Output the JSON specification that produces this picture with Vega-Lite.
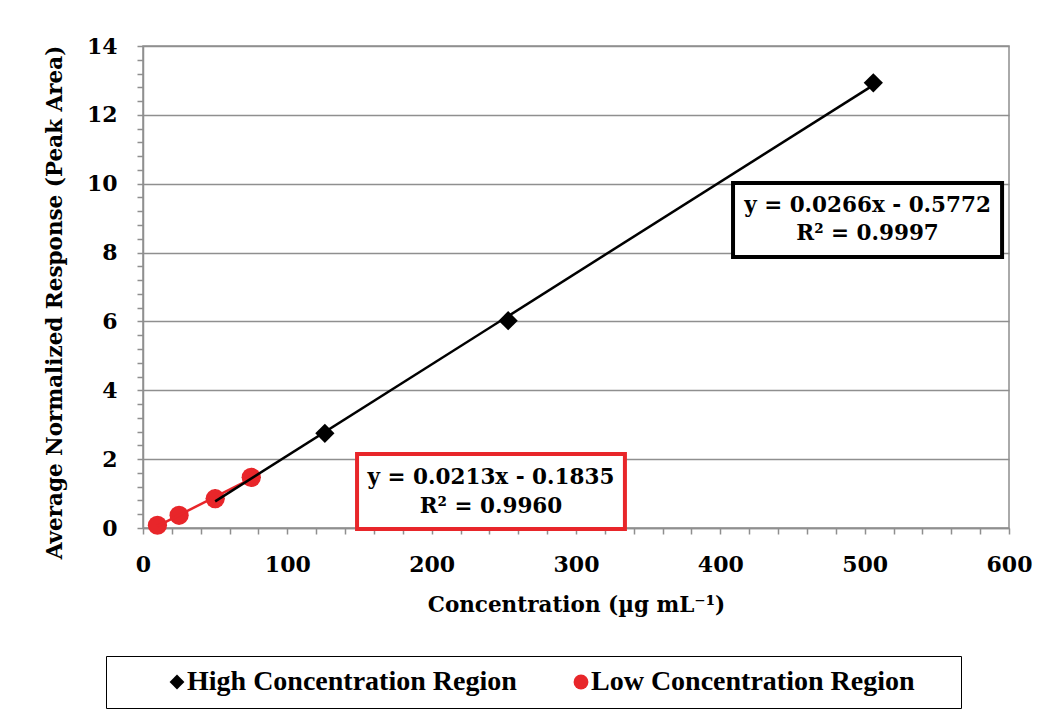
{
  "$schema": "https://vega.github.io/schema/vega-lite/v6.json",
  "width": 866,
  "height": 482,
  "autosize": "none",
  "padding": {"left": 143, "top": 46, "right": 39, "bottom": 195},
  "background": "white",
  "config": {
    "view": {"stroke": "#8f8f8f", "strokeWidth": 1.5},
    "font": "DejaVu Serif",
    "axis": {
      "domainColor": "#8f8f8f",
      "domainWidth": 1.5,
      "tickColor": "#8f8f8f",
      "tickWidth": 1.5,
      "tickSize": 6,
      "gridColor": "#8f8f8f",
      "gridWidth": 1.5,
      "labelFont": "DejaVu Serif",
      "labelFontWeight": "bold",
      "labelFontSize": 22,
      "labelColor": "#000000",
      "labelOverlap": false,
      "labelFlush": false,
      "labelBound": false,
      "titleFont": "DejaVu Serif",
      "titleFontWeight": "bold",
      "titleFontSize": 21.5,
      "titleColor": "#000000"
    }
  },
  "datasets": {
    "points": [
      {"series": "High Concentration Region", "conc": 50, "resp": 0.85},
      {"series": "High Concentration Region", "conc": 75, "resp": 1.47},
      {"series": "High Concentration Region", "conc": 126, "resp": 2.75},
      {"series": "High Concentration Region", "conc": 253, "resp": 6.02},
      {"series": "High Concentration Region", "conc": 506, "resp": 12.93},
      {"series": "Low Concentration Region", "conc": 10, "resp": 0.08},
      {"series": "Low Concentration Region", "conc": 25, "resp": 0.37},
      {"series": "Low Concentration Region", "conc": 50, "resp": 0.85},
      {"series": "Low Concentration Region", "conc": 75, "resp": 1.47}
    ]
  },
  "layer": [
    {
      "data": {"name": "points"},
      "mark": {"type": "point", "filled": true, "opacity": 1, "size": 370},
      "encoding": {
        "x": {
          "field": "conc",
          "type": "quantitative",
          "scale": {"domain": [0, 600], "nice": false, "zero": true},
          "axis": {
            "title": "Concentration (µg mL⁻¹)",
            "values": [0, 20, 40, 60, 80, 100, 120, 140, 160, 180, 200, 220, 240, 260, 280, 300, 320, 340, 360, 380, 400, 420, 440, 460, 480, 500, 520, 540, 560, 580, 600],
            "tickCount": 200,
            "labelExpr": "datum.value % 100 === 0 ? format(datum.value, 'd') : ''",
            "grid": false,
            "labelPadding": 20,
            "titlePadding": 19
          }
        },
        "y": {
          "field": "resp",
          "type": "quantitative",
          "scale": {"domain": [0, 14], "nice": false},
          "axis": {
            "title": "Average Normalized Response (Peak Area)",
            "values": [0, 0.4, 0.8, 1.2, 1.6, 2, 2.4, 2.8, 3.2, 3.6, 4, 4.4, 4.8, 5.2, 5.6, 6, 6.4, 6.8, 7.2, 7.6, 8, 8.4, 8.8, 9.2, 9.6, 10, 10.4, 10.8, 11.2, 11.6, 12, 12.4, 12.8, 13.2, 13.6, 14],
            "tickCount": 200,
            "labelExpr": "datum.value % 2 === 0 ? format(datum.value, 'd') : ''",
            "grid": true,
            "gridOpacity": {"condition": {"test": "datum.value % 2 === 0", "value": 1}, "value": 0},
            "labelPadding": 20,
            "titlePadding": 20,
            "titleY": 256
          }
        },
        "color": {
          "field": "series",
          "type": "nominal",
          "scale": {"domain": ["High Concentration Region", "Low Concentration Region"], "range": ["#000000", "#E8262A"]},
          "legend": {
            "title": "\u200b",
            "titleOrient": "right",
            "titlePadding": 34,
            "titleFontSize": 28,
            "orient": "none",
            "direction": "horizontal",
            "legendX": -37,
            "legendY": 610,
            "padding": 12,
            "strokeColor": "#000000",
            "fillColor": "#ffffff",
            "symbolSize": 220,
            "symbolOffset": 45,
            "labelOffset": -4,
            "columnPadding": 5,
            "labelFont": "Liberation Serif",
            "labelFontWeight": "bold",
            "labelFontSize": 28,
            "labelColor": "#000000",
            "labelLimit": 500
          }
        },
        "shape": {
          "field": "series",
          "type": "nominal",
          "scale": {"domain": ["High Concentration Region", "Low Concentration Region"], "range": ["diamond", "circle"]}
        }
      }
    },
    {
      "data": {"name": "points"},
      "transform": [
        {"filter": "datum.series == 'Low Concentration Region'"},
        {"regression": "resp", "on": "conc"}
      ],
      "mark": {"type": "line", "color": "#E8262A", "strokeWidth": 2.5},
      "encoding": {
        "x": {"field": "conc", "type": "quantitative"},
        "y": {"field": "resp", "type": "quantitative"}
      }
    },
    {
      "data": {"name": "points"},
      "transform": [
        {"filter": "datum.series == 'High Concentration Region'"},
        {"regression": "resp", "on": "conc"}
      ],
      "mark": {"type": "line", "color": "#000000", "strokeWidth": 2.5},
      "encoding": {
        "x": {"field": "conc", "type": "quantitative"},
        "y": {"field": "resp", "type": "quantitative"}
      }
    },
    {
      "data": {"values": [{}]},
      "mark": {"type": "rect", "fill": "#ffffff", "stroke": "#000000", "strokeWidth": 4},
      "encoding": {
        "x": {"datum": 408.8, "type": "quantitative"},
        "x2": {"datum": 595.2},
        "y": {"datum": 10.02, "type": "quantitative"},
        "y2": {"datum": 7.87}
      }
    },
    {
      "data": {"values": [{"line": "y = 0.0266x - 0.5772", "ty": 9.35}, {"line": "R² = 0.9997", "ty": 8.54}]},
      "mark": {"type": "text", "font": "DejaVu Serif", "fontWeight": "bold", "fontSize": 21.5, "align": "center", "baseline": "middle", "color": "#000000"},
      "encoding": {
        "x": {"datum": 502, "type": "quantitative"},
        "y": {"field": "ty", "type": "quantitative"},
        "text": {"field": "line"}
      }
    },
    {
      "data": {"values": [{}]},
      "mark": {"type": "rect", "fill": "#ffffff", "stroke": "#E8262A", "strokeWidth": 4},
      "encoding": {
        "x": {"datum": 148.3, "type": "quantitative"},
        "x2": {"datum": 333.9},
        "y": {"datum": 2.15, "type": "quantitative"},
        "y2": {"datum": -0.03}
      }
    },
    {
      "data": {"values": [{"line": "y = 0.0213x - 0.1835", "ty": 1.45}, {"line": "R² = 0.9960", "ty": 0.6}]},
      "mark": {"type": "text", "font": "DejaVu Serif", "fontWeight": "bold", "fontSize": 21.5, "align": "center", "baseline": "middle", "color": "#000000"},
      "encoding": {
        "x": {"datum": 241.1, "type": "quantitative"},
        "y": {"field": "ty", "type": "quantitative"},
        "text": {"field": "line"}
      }
    }
  ]
}
